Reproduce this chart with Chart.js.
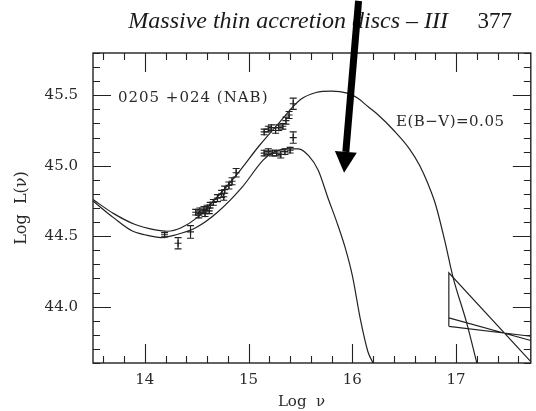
<!DOCTYPE html>
<html>
<head>
<meta charset="utf-8">
<script src="https://cdn.jsdelivr.net/npm/chart.js@4.4.0/dist/chart.umd.min.js"></script>
<style>
  html, body { margin: 0; padding: 0; background: #fff; }
  #wrap { width: 536px; height: 411px; }
</style>
</head>
<body>
<div id="wrap"><canvas id="sedChart" width="536" height="411"></canvas></div>
<script>
// values (log nu, log L(nu))
var xTicks = [14, 15, 16, 17];
var yTicks = [44.0, 44.5, 45.0, 45.5];

// photometry, upper set (incl. the IR/optical points)
var nuA  = [14.19, 14.32, 14.44, 14.49, 14.52, 14.53, 14.57, 14.58, 14.60, 14.62, 14.63, 14.66, 14.70, 14.74, 14.76, 14.77, 14.81, 14.84, 14.88,
            15.15, 15.19, 15.22, 15.26, 15.29, 15.33, 15.36, 15.39, 15.43];
var lumA = [44.51, 44.45, 44.53, 44.67, 44.65, 44.68, 44.69, 44.66, 44.70, 44.68, 44.72, 44.74, 44.77, 44.80, 44.78, 44.83, 44.86, 44.89, 44.95,
            45.24, 45.26, 45.27, 45.25, 45.27, 45.28, 45.32, 45.36, 45.44];
var errA = [0.015, 0.04, 0.045, 0.02, 0.02, 0.02, 0.02, 0.02, 0.02, 0.02, 0.02, 0.02, 0.025, 0.025, 0.025, 0.025, 0.025, 0.025, 0.03,
            0.02, 0.02, 0.02, 0.02, 0.02, 0.02, 0.025, 0.025, 0.04];

// photometry, lower set (UV)
var nuB  = [15.15, 15.19, 15.23, 15.27, 15.31, 15.35, 15.40, 15.43];
var lumB = [45.09, 45.10, 45.09, 45.09, 45.08, 45.10, 45.11, 45.20];
var errB = [0.02, 0.02, 0.02, 0.02, 0.025, 0.02, 0.02, 0.04];

// disc model curves
var modelNuA = [13.5, 13.7, 13.9, 14.1, 14.22, 14.35, 14.5, 14.7, 14.9, 15.1, 15.3, 15.5, 15.65, 15.8, 15.95, 16.05, 16.15, 16.25, 16.4, 16.55, 16.65, 16.73, 16.8, 16.89, 16.97, 17.1, 17.2];
var modelLA  = [44.76, 44.66, 44.585, 44.545, 44.535, 44.56, 44.63, 44.78, 44.95, 45.14, 45.31, 45.47, 45.52, 45.53, 45.515, 45.48, 45.42, 45.36, 45.25, 45.12, 45.00, 44.87, 44.73, 44.47, 44.21, 43.89, 43.60];
var modelNuB = [13.5, 13.7, 13.87, 14.0, 14.16, 14.3, 14.49, 14.7, 14.94, 15.14, 15.25, 15.38, 15.48, 15.58, 15.67, 15.77, 15.85, 15.93, 16.0, 16.08, 16.15, 16.2];
var modelLB  = [44.75, 44.63, 44.54, 44.51, 44.49, 44.51, 44.56, 44.67, 44.85, 45.04, 45.10, 45.12, 45.12, 45.07, 44.97, 44.76, 44.60, 44.42, 44.22, 43.90, 43.68, 43.60];

// X-ray bow tie (null breaks the segments)
var bowNu = [16.93, 16.93, 17.72, null, 16.93, 17.72, null, 16.93, 17.72];
var bowL  = [43.86, 44.24, 43.61, null, 43.92, 43.76, null, 43.86, 43.79];

// arrow pasted on top of the figure, in data units
var arrowFrom = { x: 16.06, y: 46.17 };
var arrowTo = { x: 15.92, y: 44.95 };

function pts(xs, ys) {
    return xs.map(function (x, i) { return { x: x, y: ys[i] }; });
}

var ink = "#222";

var errorBars = {
    id: "errorBars",
    afterDatasetsDraw: function (chart) {
        var ctx = chart.ctx, xs = chart.scales.x, ys = chart.scales.y;
        ctx.save();
        ctx.strokeStyle = ink;
        ctx.lineWidth = 1.1;
        [[nuA, lumA, errA], [nuB, lumB, errB]].forEach(function (set) {
            set[0].forEach(function (nu, i) {
                var px = xs.getPixelForValue(nu);
                var y1 = ys.getPixelForValue(set[1][i] + set[2][i]);
                var y2 = ys.getPixelForValue(set[1][i] - set[2][i]);
                ctx.beginPath();
                ctx.moveTo(px, y1); ctx.lineTo(px, y2);
                ctx.moveTo(px - 3.5, y1); ctx.lineTo(px + 3.5, y1);
                ctx.moveTo(px - 3.5, y2); ctx.lineTo(px + 3.5, y2);
                ctx.stroke();
            });
        });
        ctx.restore();
    }
};

// frame with inward ticks on all four sides
var frameTicks = {
    id: "frameTicks",
    afterDatasetsDraw: function (chart) {
        var ctx = chart.ctx, a = chart.chartArea, xs = chart.scales.x, ys = chart.scales.y;
        ctx.save();
        ctx.strokeStyle = ink;
        ctx.lineWidth = 1.4;
        ctx.strokeRect(a.left, a.top, a.right - a.left, a.bottom - a.top);
        ctx.lineWidth = 1.1;
        ctx.beginPath();
        var k, p, len;
        for (k = Math.ceil(xs.min / 0.2); k <= Math.floor(xs.max / 0.2); k++) {
            p = Math.round(xs.getPixelForValue(k * 0.2)) + 0.5;
            len = (k % 5 === 0) ? 19 : 7;
            ctx.moveTo(p, a.bottom); ctx.lineTo(p, a.bottom - len);
            ctx.moveTo(p, a.top); ctx.lineTo(p, a.top + len);
        }
        for (k = Math.ceil(ys.min / 0.1 - 1e-6); k <= Math.floor(ys.max / 0.1 + 1e-6); k++) {
            p = Math.round(ys.getPixelForValue(k * 0.1)) + 0.5;
            len = (k % 5 === 0) ? 18 : 7;
            ctx.moveTo(a.left, p); ctx.lineTo(a.left + len, p);
            ctx.moveTo(a.right, p); ctx.lineTo(a.right - len, p);
        }
        ctx.stroke();
        ctx.restore();
    }
};

var textAndArrow = {
    id: "textAndArrow",
    afterDraw: function (chart) {
        var ctx = chart.ctx, xs = chart.scales.x, ys = chart.scales.y;
        ctx.save();
        ctx.fillStyle = "#1a1a1a";
        ctx.textBaseline = "alphabetic";
        ctx.font = "italic 24px 'Liberation Serif'";
        ctx.textAlign = "right";
        ctx.fillText("Massive thin accretion discs \u2013 III", 448, 28);
        ctx.font = "23px 'Liberation Serif'";
        ctx.fillText("377", 512, 28);

        ctx.fillStyle = "#2a2a2a";
        ctx.textBaseline = "middle";
        ctx.textAlign = "left";
        ctx.font = "15px 'DejaVu Serif'";
        ctx.letterSpacing = "1px";
        ctx.fillText("0205 +024 (NAB)", xs.getPixelForValue(13.74), ys.getPixelForValue(45.48));
        ctx.letterSpacing = "0.5px";
        ctx.fillText("E(B\u2212V)=0.05", xs.getPixelForValue(16.42), ys.getPixelForValue(45.31));
        ctx.letterSpacing = "0px";
        ctx.textAlign = "center";
        ctx.fillText("Log  \u03bd", xs.getPixelForValue(15.51), 402);

        // arrow
        var x0 = xs.getPixelForValue(arrowFrom.x), y0 = ys.getPixelForValue(arrowFrom.y);
        var x1 = xs.getPixelForValue(arrowTo.x), y1 = ys.getPixelForValue(arrowTo.y);
        var ang = Math.atan2(y1 - y0, x1 - x0);
        var headLen = 21, headHalf = 11;
        var bx = x1 - headLen * Math.cos(ang), by = y1 - headLen * Math.sin(ang);
        ctx.strokeStyle = "#000";
        ctx.fillStyle = "#000";
        ctx.lineWidth = 7;
        ctx.beginPath();
        ctx.moveTo(x0, y0); ctx.lineTo(bx, by);
        ctx.stroke();
        ctx.beginPath();
        ctx.moveTo(x1, y1);
        ctx.lineTo(bx + headHalf * Math.sin(ang), by - headHalf * Math.cos(ang));
        ctx.lineTo(bx - headHalf * Math.sin(ang), by + headHalf * Math.cos(ang));
        ctx.closePath();
        ctx.fill();
        ctx.restore();
    }
};

var ctx = document.getElementById("sedChart").getContext("2d");
var sedChart = new Chart(ctx, {
    type: "scatter",
    data: {
        datasets: [
            {
                label: "model A",
                data: pts(modelNuA, modelLA),
                showLine: true,
                borderColor: ink,
                borderWidth: 1.2,
                pointRadius: 0,
                cubicInterpolationMode: "monotone",
            },
            {
                label: "model B",
                data: pts(modelNuB, modelLB),
                showLine: true,
                borderColor: ink,
                borderWidth: 1.2,
                pointRadius: 0,
                cubicInterpolationMode: "monotone",
            },
            {
                label: "X-ray",
                data: pts(bowNu, bowL),
                showLine: true,
                spanGaps: false,
                borderColor: ink,
                borderWidth: 1.2,
                pointRadius: 0,
            },
            {
                label: "obs A",
                data: pts(nuA, lumA),
                pointStyle: "cross",
                pointRadius: 3.5,
                borderColor: ink,
                borderWidth: 1.2,
            },
            {
                label: "obs B",
                data: pts(nuB, lumB),
                pointStyle: "cross",
                pointRadius: 3.5,
                borderColor: ink,
                borderWidth: 1.2,
            },
        ],
    },
    options: {
        responsive: false,
        animation: false,
        devicePixelRatio: 1,
        layout: { padding: { left: 0, top: 53, right: 3, bottom: 0 } },
        plugins: {
            legend: { display: false },
            tooltip: { enabled: false },
        },
        scales: {
            x: {
                type: "linear",
                min: 13.5,
                max: 17.72,
                grid: { display: false, drawTicks: false },
                border: { display: false },
                afterBuildTicks: function (scale) {
                    scale.ticks = xTicks.map(function (v) { return { value: v }; });
                },
                afterFit: function (scale) { scale.height = 48; },
                ticks: {
                    autoSkip: false,
                    maxRotation: 0,
                    padding: 8,
                    color: "#2a2a2a",
                    font: { family: "'DejaVu Serif'", size: 15 },
                    callback: function (v) { return String(v); },
                },
            },
            y: {
                type: "linear",
                min: 43.6,
                max: 45.8,
                grid: { display: false, drawTicks: false },
                border: { display: false },
                afterBuildTicks: function (scale) {
                    scale.ticks = yTicks.map(function (v) { return { value: v }; });
                },
                afterFit: function (scale) { scale.width = 93; },
                title: {
                    display: true,
                    text: "Log  L(\u03bd)",
                    color: "#2a2a2a",
                    font: { family: "'DejaVu Serif'", size: 16 },
                    padding: { top: 12, bottom: 0 },
                },
                ticks: {
                    padding: 15,
                    color: "#2a2a2a",
                    font: { family: "'DejaVu Serif'", size: 15 },
                    callback: function (v) { return Number(v).toFixed(1); },
                },
            },
        },
    },
    plugins: [errorBars, frameTicks, textAndArrow],
});
</script>
</body>
</html>
